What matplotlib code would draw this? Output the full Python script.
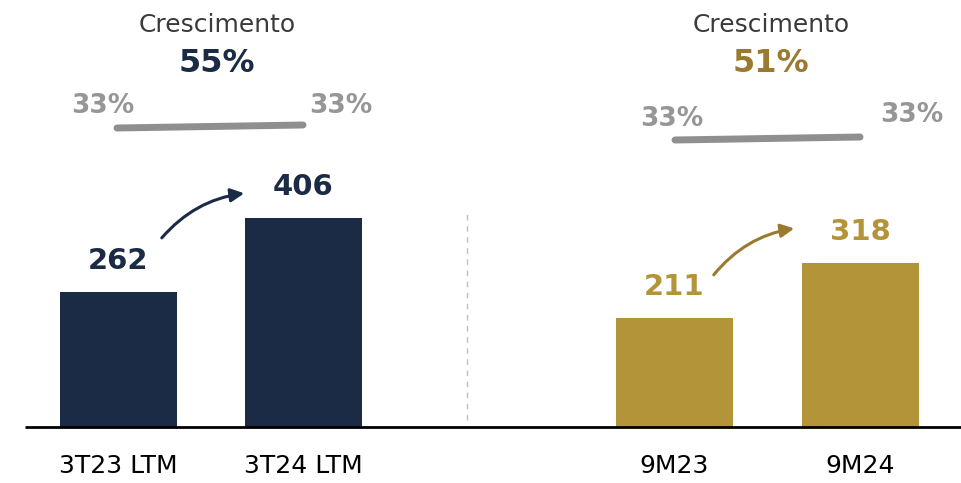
import matplotlib.pyplot as plt
from matplotlib.patches import FancyArrowPatch

# data
categories = ['3T23 LTM', '3T24 LTM', '9M23', '9M24']
values = [262, 406, 211, 318]
growth = ['55%', '51%']
margins = [('33%', '33%'), ('33%', '33%')]

navy = '#1b2a45'
gold = '#b39439'
gold_dark = '#9a7a2e'
grey = '#969696'

# pixel layout helpers (figure is 961x483 px, baseline at y=427 px)
scale = 0.515
base_px = 427


def vy(ypx):
    return (base_px - ypx) / scale


fig = plt.figure(figsize=(9.61, 4.83), dpi=100)
ax = fig.add_axes([0, 0, 1, 1])
ax.set_xlim(0, 961)
ax.set_ylim(vy(483), vy(0))
ax.axis('off')

xpos = [118, 303.5, 674.5, 860.5]
colors = [navy, navy, gold, gold]
label_colors = [navy, navy, gold, gold]
ax.bar(xpos, values, width=117, color=colors, zorder=2)

# value labels
for x, v, c in zip(xpos, values, label_colors):
    ax.text(x, v + 60, str(v), ha='center', va='center', fontsize=21,
            fontweight='bold', color=c)

# baseline
ax.plot([25, 961], [0, 0], color='black', lw=2, zorder=3, solid_capstyle='butt')

# divider
ax.plot([467, 467], [vy(420), vy(210)], color='#c0c0c0', lw=1, ls=(0, (4, 4)))

# category labels
for x, lab in zip(xpos, categories):
    ax.text(x, vy(466), lab, ha='center', va='center', fontsize=18, color='black')

# growth headers
for cx, g, c in [(217, growth[0], navy), (771, growth[1], gold_dark)]:
    ax.text(cx, vy(25), 'Crescimento', ha='center', va='center', fontsize=18,
            color='#3a3a3a')
    ax.text(cx, vy(63), g, ha='center', va='center', fontsize=23,
            fontweight='bold', color=c)

# margin lines
ax.text(103, vy(106), margins[0][0], ha='center', va='center', fontsize=19,
        fontweight='bold', color=grey)
ax.text(341, vy(106), margins[0][1], ha='center', va='center', fontsize=19,
        fontweight='bold', color=grey)
ax.plot([117, 303], [vy(128), vy(125)], color='#8f8f8f', lw=5, solid_capstyle='round')

ax.text(672, vy(119), margins[1][0], ha='center', va='center', fontsize=19,
        fontweight='bold', color=grey)
ax.text(912, vy(115), margins[1][1], ha='center', va='center', fontsize=19,
        fontweight='bold', color=grey)
ax.plot([675, 860], [vy(140), vy(137)], color='#8f8f8f', lw=5, solid_capstyle='round')

# arrows
for (x0, y0, x1, y1, c) in [(160, 240, 247, 193, navy), (712, 277, 797, 228, gold_dark)]:
    arr = FancyArrowPatch((x0, vy(y0)), (x1, vy(y1)),
                          connectionstyle='arc3,rad=-0.2',
                          arrowstyle='-|>,head_length=8,head_width=4',
                          color=c, lw=2.2)
    ax.add_patch(arr)

fig.savefig('out.png', dpi=100)
